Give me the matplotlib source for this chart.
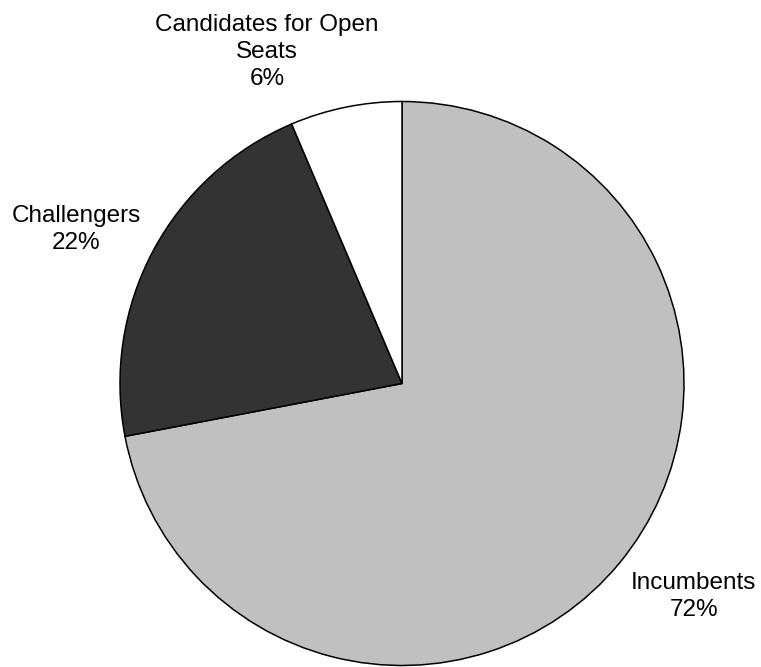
"""
Pie chart: share of candidates by type.
"""
import matplotlib
matplotlib.use("Agg")
import matplotlib.pyplot as plt

# data
categories = ["Incumbents", "Challengers", "Candidates for Open\nSeats"]
shares = [72.0, 21.6, 6.4]
colors = ["#c0c0c0", "#333333", "#ffffff"]

# label centres in pie-radius units (layout only)
label_pos = [(1.035, -0.755), (-1.156, 0.546), (-0.479, 1.175)]

plt.rcParams["font.family"] = ["Liberation Sans", "DejaVu Sans"]

fig = plt.figure(figsize=(7.61, 6.67), dpi=100)
ax = fig.add_axes([0, 0, 1, 1])

# pixels per unit radius and pie centre in pixel coords
r_px = 282.0
cx, cy = 402.0, 383.5

total = sum(shares)
wedges, _ = ax.pie(
    shares,
    colors=colors,
    startangle=90,
    counterclock=False,
    radius=1.0,
    wedgeprops={"edgecolor": "black", "linewidth": 1.1},
)

for name, val, (lx, ly) in zip(categories, shares, label_pos):
    pct = round(100 * val / total)
    ax.text(lx, ly, f"{name}\n{pct}%", ha="center", va="center",
            fontsize=17.5, linespacing=1.3, color="black")

ax.set_xlim(-cx / r_px, (761 - cx) / r_px)
ax.set_ylim(-(667 - cy) / r_px, cy / r_px)
ax.set_aspect("auto")
ax.axis("off")

fig.savefig("out.png", dpi=100)
